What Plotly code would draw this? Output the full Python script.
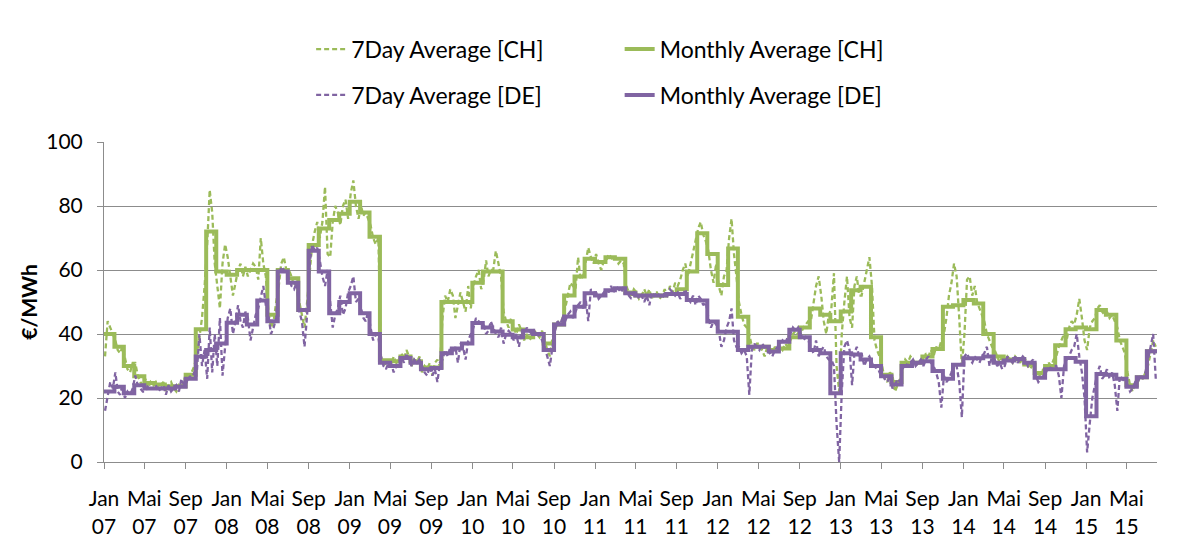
import pandas as pd
import plotly.graph_objects as go

# ---------------- data ----------------
month_starts = pd.date_range("2007-01-01", "2015-07-01", freq="MS")
axis_end = pd.Timestamp("2015-07-31")

tick_dates = pd.date_range("2007-01-01", "2015-05-01", freq="4MS")
tick_labels = ["Jan<br>07", "Mai<br>07", "Sep<br>07", "Jan<br>08", "Mai<br>08", "Sep<br>08",
               "Jan<br>09", "Mai<br>09", "Sep<br>09", "Jan<br>10", "Mai<br>10", "Sep<br>10",
               "Jan<br>11", "Mai<br>11", "Sep<br>11", "Jan<br>12", "Mai<br>12", "Sep<br>12",
               "Jan<br>13", "Mai<br>13", "Sep<br>13", "Jan<br>14", "Mai<br>14", "Sep<br>14",
               "Jan<br>15", "Mai<br>15"]

ch_monthly = [40, 36, 30, 26.8, 24.7, 24.2, 23.7, 23.7, 27.3, 41.5, 72, 59.5,
              58.5, 60, 60, 60, 46, 60, 57.4, 47.5, 67.8, 73, 75.6, 77.6,
              81.3, 78, 70.4, 31.8, 31.5, 33, 31.5, 29.5, 29.5, 50, 50, 50,
              56, 59.5, 59.5, 44, 41.4, 39, 40, 37, 43, 52, 58, 63.5,
              62.5, 64, 63.5, 53, 52, 52, 52, 52.5, 54, 59.5, 71.5, 65,
              55.3, 66.7, 45.4, 36, 36, 35, 35.5, 39, 42, 48, 46, 44,
              47, 53.7, 54.8, 39, 27.3, 25, 31, 31, 33, 35.3, 48.5, 49,
              50.6, 49.5, 40, 33, 32, 32, 30.5, 27.8, 30, 36.5, 41.5, 42,
              41.5, 47.5, 46, 38, 24, 26.5, 34.6]

de_monthly = [22, 23.5, 21.5, 24, 23, 23, 23, 23.5, 26, 33, 35, 37,
              43.5, 46, 43, 50.5, 44, 59.5, 56, 47.5, 66, 59.5, 46.5, 50,
              52.7, 46.5, 40, 31, 30, 32.5, 31, 29, 29.4, 34, 35.5, 37,
              43.4, 42, 40.8, 39.8, 39, 41, 40, 35, 43, 45.5, 48.5, 52.7,
              52, 53.7, 54.3, 52.7, 52, 52, 52, 52.5, 52.5, 50.6, 50.5, 43.9,
              40.7, 40.7, 35, 36, 36, 34.5, 37.6, 41.3, 39, 35, 34, 21.5,
              34, 33.6, 32, 30, 26.8, 24.2, 30, 31, 31.5, 28.4, 26, 30.4,
              32.4, 32.4, 33, 31, 31.7, 32.2, 31, 26.3, 29, 29, 32.5, 31.3,
              14.3, 27.5, 27.3, 26, 23.5, 26.5, 34.6]

# 7-day averages, four readings per month
ch_7day = [33, 44, 42, 40, 38, 35, 34, 36, 33, 29, 28, 31, 31, 27, 25, 24,
           26, 23, 25, 24, 25, 23, 24, 25, 22, 24, 25, 23, 22, 24, 23, 26,
           25, 27, 28, 30, 33, 40, 45, 55, 68, 85, 78, 62, 55, 48, 62, 68,
           64, 57, 52, 56, 60, 62, 58, 61, 58, 60, 62, 61, 57, 70, 62, 58,
           47, 42, 44, 50, 55, 62, 64, 60, 60, 58, 55, 56, 50, 46, 42, 50,
           58, 68, 72, 75, 70, 75, 86, 65, 64, 75, 80, 78, 74, 80, 82, 76,
           84, 88, 80, 76, 80, 77, 78, 76, 74, 70, 68, 70, 33, 31, 30, 32,
           30, 33, 31, 32, 34, 32, 35, 33, 30, 32, 31, 33, 28, 30, 29, 31,
           27, 31, 32, 30, 45, 52, 50, 54, 52, 45, 49, 53, 50, 47, 55, 48,
           55, 58, 60, 54, 57, 63, 58, 60, 60, 66, 62, 58, 47, 44, 42, 45,
           42, 40, 43, 41, 38, 40, 38, 39, 41, 40, 39, 41, 38, 35, 33, 39,
           41, 44, 43, 45, 48, 52, 56, 55, 54, 64, 57, 58, 62, 67, 64, 62,
           65, 62, 60, 63, 63, 65, 64, 63, 64, 62, 63, 62, 55, 53, 52, 54,
           53, 51, 52, 54, 52, 54, 51, 53, 53, 51, 52, 54, 52, 55, 53, 56,
           55, 57, 60, 62, 58, 62, 65, 70, 73, 75, 71, 69, 66, 60, 56, 62,
           55, 52, 58, 60, 70, 76, 65, 58, 50, 46, 43, 42, 40, 36, 35, 37,
           37, 35, 33, 36, 35, 34, 36, 35, 36, 35, 37, 36, 38, 40, 41, 40,
           40, 42, 43, 44, 44, 50, 55, 58, 52, 44, 40, 46, 48, 59, 30, 22,
           40, 50, 58, 45, 42, 55, 58, 52, 52, 56, 60, 64, 55, 38, 35, 33,
           30, 26, 25, 28, 27, 22, 24, 26, 30, 32, 31, 33, 32, 30, 31, 32,
           31, 34, 33, 35, 33, 36, 35, 38, 40, 45, 52, 56, 62, 58, 45, 30,
           40, 57, 58, 52, 55, 50, 48, 46, 44, 40, 38, 36, 35, 33, 31, 33,
           31, 33, 32, 31, 33, 32, 31, 33, 32, 30, 29, 31, 27, 26, 28, 29,
           28, 31, 30, 32, 33, 36, 38, 40, 38, 42, 44, 43, 46, 51, 45, 38,
           35, 42, 44, 45, 48, 49, 47, 46, 47, 45, 46, 44, 42, 38, 36, 34,
           28, 24, 22, 25, 25, 27, 26, 28, 30, 34, 38, 36]

de_7day = [16, 21, 25, 23, 28, 22, 21, 24, 20, 22, 21, 23, 27, 24, 23, 22,
           22, 24, 23, 23, 24, 22, 23, 24, 21, 24, 22, 23, 24, 22, 26, 24,
           25, 27, 26, 28, 28, 40, 30, 35, 26, 42, 28, 40, 30, 45, 27, 36,
           45, 48, 40, 44, 49, 44, 42, 47, 45, 38, 42, 46, 48, 52, 55, 49,
           46, 40, 42, 45, 58, 61, 60, 59, 57, 55, 54, 56, 47, 44, 36, 46,
           62, 68, 66, 67, 63, 58, 55, 60, 50, 42, 46, 48, 52, 46, 48, 53,
           55, 58, 50, 51, 48, 45, 44, 47, 42, 38, 40, 39, 33, 30, 29, 31,
           31, 28, 30, 31, 33, 31, 34, 32, 30, 32, 31, 32, 30, 28, 27, 30,
           27, 29, 25, 31, 32, 35, 33, 36, 34, 36, 31, 37, 36, 32, 38, 40,
           42, 45, 44, 43, 43, 40, 41, 44, 42, 40, 39, 42, 37, 40, 41, 40,
           38, 40, 36, 41, 40, 42, 41, 40, 41, 39, 40, 38, 36, 33, 30, 36,
           41, 44, 43, 45, 44, 46, 47, 45, 47, 49, 50, 48, 51, 44, 54, 53,
           53, 51, 52, 53, 54, 53, 55, 53, 55, 54, 53, 55, 53, 52, 51, 53,
           53, 51, 52, 50, 52, 49, 53, 52, 53, 52, 51, 53, 52, 54, 53, 52,
           53, 51, 52, 54, 51, 50, 52, 49, 52, 51, 49, 50, 45, 42, 44, 43,
           41, 36, 38, 42, 44, 48, 38, 36, 36, 34, 35, 33, 21, 35, 37, 36,
           35, 37, 36, 35, 34, 33, 35, 36, 37, 38, 37, 39, 40, 42, 41, 42,
           40, 38, 39, 38, 36, 34, 38, 33, 35, 36, 33, 32, 32, 30, 12, 0,
           22, 36, 38, 35, 24, 34, 36, 33, 34, 30, 32, 33, 31, 29, 30, 28,
           28, 26, 25, 27, 23, 24, 26, 25, 29, 31, 30, 31, 32, 30, 31, 32,
           30, 32, 33, 31, 30, 28, 25, 17, 27, 25, 26, 28, 31, 30, 25, 14,
           33, 34, 32, 31, 33, 32, 31, 33, 34, 36, 30, 33, 32, 30, 31, 29,
           30, 33, 32, 31, 33, 31, 32, 33, 32, 30, 31, 32, 27, 25, 26, 27,
           28, 30, 29, 30, 30, 27, 20, 30, 32, 33, 35, 36, 40, 33, 28, 20,
           3, 12, 20, 24, 28, 30, 26, 27, 29, 26, 28, 24, 16, 27, 26, 25,
           24, 22, 23, 25, 25, 27, 26, 28, 32, 35, 40, 26]

week_fractions = [0.1, 0.35, 0.6, 0.85]

# ---------------- styling ----------------
GREEN = "#9BBB59"
PURPLE = "#8064A2"
GRID = "#8C8C8C"
FONT = "Lato"

# x positions of the 7-day readings
month_len = [(month_starts[i + 1] if i + 1 < len(month_starts) else pd.Timestamp("2015-08-01")) - month_starts[i]
             for i in range(len(month_starts))]
week_x = [month_starts[i] + month_len[i] * f for i in range(len(month_starts)) for f in week_fractions]

step_x = list(month_starts) + [axis_end]
ch_step_y = ch_monthly + [ch_monthly[-1]]
de_step_y = de_monthly + [de_monthly[-1]]

fig = go.Figure()
fig.add_trace(go.Scatter(x=week_x, y=ch_7day, mode="lines", name="7Day Average [CH]",
                         line=dict(color=GREEN, width=2.3, dash="5px,3px"),
                         legend="legend", legendgroup="a"))
fig.add_trace(go.Scatter(x=step_x, y=ch_step_y, mode="lines", name="Monthly Average [CH]",
                         line=dict(color=GREEN, width=4, shape="hv"),
                         legend="legend2", legendgroup="c"))
fig.add_trace(go.Scatter(x=week_x, y=de_7day, mode="lines", name="7Day Average [DE]",
                         line=dict(color=PURPLE, width=2.3, dash="5px,3px"),
                         legend="legend", legendgroup="b"))
fig.add_trace(go.Scatter(x=step_x, y=de_step_y, mode="lines", name="Monthly Average [DE]",
                         line=dict(color=PURPLE, width=4, shape="hv"),
                         legend="legend2", legendgroup="d"))

legend_common = dict(orientation="v", yanchor="top", xanchor="left", y=1.3575,
                     font=dict(family=FONT, size=23, color="#000000"),
                     bgcolor="rgba(0,0,0,0)", tracegroupgap=13, traceorder="grouped")

fig.update_layout(
    width=1179, height=550,
    margin=dict(l=96, r=30, t=134, b=96, autoexpand=False),
    paper_bgcolor="white", plot_bgcolor="white",
    font=dict(family=FONT, size=21, color="#000000"),
    legend=dict(x=0.1967, **legend_common),
    legend2=dict(x=0.4897, **legend_common),
    xaxis=dict(type="date", range=[month_starts[0], axis_end],
               tickmode="array", tickvals=list(tick_dates), ticktext=tick_labels,
               showgrid=False, showline=True, linecolor=GRID, linewidth=1,
               ticks="outside", ticklen=6, tickcolor=GRID,
               ticklabelstandoff=12, tickfont=dict(family=FONT, size=21),
               automargin=False, fixedrange=True),
    yaxis=dict(range=[0, 100], dtick=20, tick0=0,
               showgrid=True, gridcolor=GRID, gridwidth=1,
               showline=True, linecolor=GRID, linewidth=1,
               ticks="outside", ticklen=6, tickcolor=GRID,
               ticklabelstandoff=10, tickfont=dict(family=FONT, size=21),
               zeroline=False, automargin=False,
               title=dict(text="<b>€/MWh</b>", font=dict(family=FONT, size=21), standoff=2),
               fixedrange=True),
)

fig.write_html("out.html")
